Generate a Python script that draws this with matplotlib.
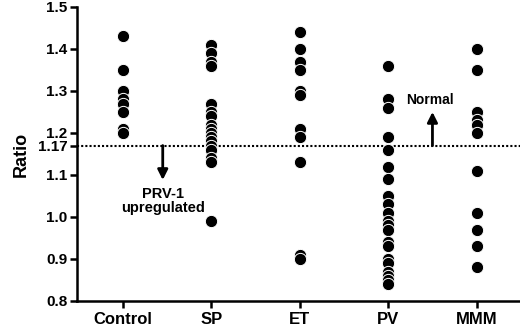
import matplotlib
matplotlib.use("Agg")
import matplotlib.pyplot as plt

plt.rcParams['font.family'] = ['Liberation Sans', 'DejaVu Sans']
plt.rcParams['font.weight'] = 'bold'

categories = ['Control', 'SP', 'ET', 'PV', 'MMM']
control = [1.43, 1.35, 1.30, 1.28, 1.27, 1.25, 1.21, 1.20]
sp = [1.41, 1.39, 1.37, 1.36, 1.27, 1.25, 1.24, 1.22, 1.21, 1.20, 1.19,
      1.18, 1.17, 1.16, 1.14, 1.13, 0.99]
et = [1.44, 1.40, 1.37, 1.35, 1.30, 1.29, 1.21, 1.19, 1.13, 0.91, 0.90]
pv = [1.36, 1.28, 1.26, 1.19, 1.16, 1.12, 1.09, 1.05, 1.03, 1.01, 0.99,
      0.98, 0.97, 0.94, 0.93, 0.90, 0.89, 0.87, 0.86, 0.85, 0.84]
mmm = [1.40, 1.35, 1.25, 1.23, 1.22, 1.20, 1.11, 1.01, 0.97, 0.93, 0.88]
groups = [control, sp, et, pv, mmm]

cutoff = 1.17
yticks = [0.8, 0.9, 1.0, 1.1, 1.17, 1.2, 1.3, 1.4, 1.5]
ytick_labels = ['0.8', '0.9', '1.0', '1.1', '1.17', '1.2', '1.3', '1.4', '1.5']

fig = plt.figure(figsize=(5.2, 3.3), dpi=100)
ax = fig.add_axes([0.148, 0.088, 0.852, 0.891])

for i, vals in enumerate(groups):
    ax.scatter([i] * len(vals), vals, s=78, color='black',
               edgecolors='white', linewidths=0.7, zorder=3)

ax.axhline(cutoff, color='black', linestyle=(0, (1, 1)), lw=1.5, zorder=2)

# arrows and labels
ax.annotate('', xy=(3.5, 1.25), xytext=(3.5, cutoff),
            arrowprops=dict(arrowstyle='-|>', color='black', lw=2,
                            mutation_scale=15, shrinkA=0, shrinkB=0))
ax.text(3.47, 1.278, 'Normal', ha='center', va='center', fontsize=10,
        fontweight='bold')
ax.annotate('', xy=(0.45, 1.088), xytext=(0.45, cutoff),
            arrowprops=dict(arrowstyle='-|>', color='black', lw=2,
                            mutation_scale=15, shrinkA=0, shrinkB=0))
ax.text(0.45, 1.039, 'PRV-1\nupregulated', ha='center', va='center',
        fontsize=10.5, fontweight='bold', linespacing=1.0)

ax.set_xlim(-0.52, 4.49)
ax.set_ylim(0.8, 1.5)
ax.set_xticks(range(len(categories)))
ax.set_xticklabels(categories, fontsize=12, fontweight='bold')
ax.set_yticks(yticks)
ax.set_yticklabels(ytick_labels, fontsize=11, fontweight='bold')
ax.set_ylabel('Ratio', fontsize=13, fontweight='bold', labelpad=6)

for side in ['top', 'right']:
    ax.spines[side].set_visible(False)
for side in ['left', 'bottom']:
    ax.spines[side].set_linewidth(1.8)
ax.tick_params(width=1.8, length=5, direction='out', pad=2)
ax.tick_params(axis='x', pad=3)

fig.savefig('out.png', dpi=100)
